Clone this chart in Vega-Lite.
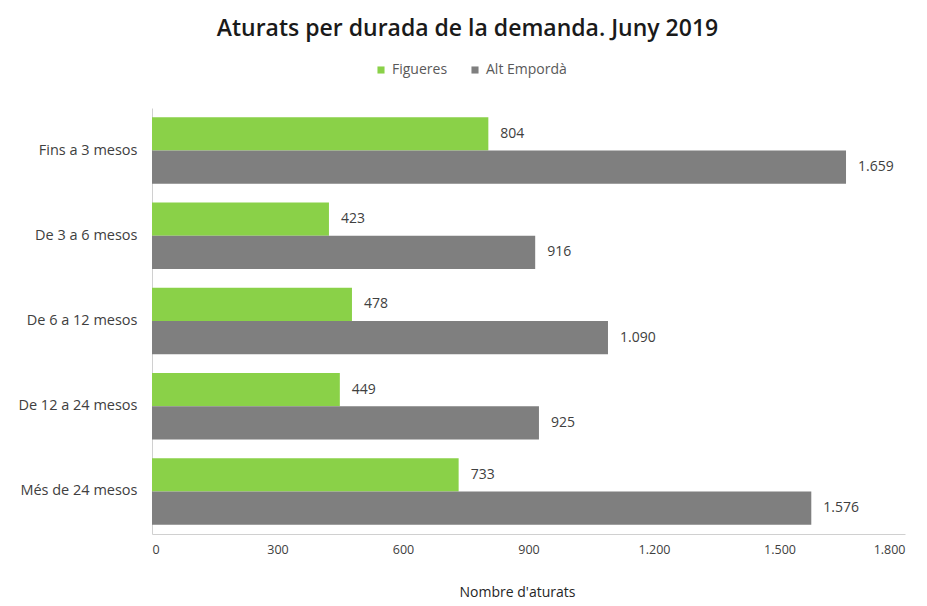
{
  "$schema": "https://vega.github.io/schema/vega-lite/v6.json",
  "width": 753,
  "height": 426,
  "autosize": {"type": "none"},
  "padding": {"left": 152, "top": 108, "right": 22, "bottom": 72},
  "background": "white",
  "config": {
    "locale": {"number": {"decimal": ",", "thousands": ".", "grouping": [3], "currency": ["", " €"]}},
    "font": "Open Sans",
    "view": {"stroke": null}
  },
  "title": {
    "text": "Aturats per durada de la demanda. Juny 2019",
    "font": "Open Sans",
    "fontSize": 23,
    "fontWeight": 600,
    "color": "#1a1a1a",
    "anchor": "middle",
    "dx": -61,
    "offset": 22
  },
  "data": {
    "values": [
      {"durada": "Fins a 3 mesos", "zona": "Figueres", "aturats": 804},
      {"durada": "Fins a 3 mesos", "zona": "Alt Empordà", "aturats": 1659},
      {"durada": "De 3 a 6 mesos", "zona": "Figueres", "aturats": 423},
      {"durada": "De 3 a 6 mesos", "zona": "Alt Empordà", "aturats": 916},
      {"durada": "De 6 a 12 mesos", "zona": "Figueres", "aturats": 478},
      {"durada": "De 6 a 12 mesos", "zona": "Alt Empordà", "aturats": 1090},
      {"durada": "De 12 a 24 mesos", "zona": "Figueres", "aturats": 449},
      {"durada": "De 12 a 24 mesos", "zona": "Alt Empordà", "aturats": 925},
      {"durada": "Més de 24 mesos", "zona": "Figueres", "aturats": 733},
      {"durada": "Més de 24 mesos", "zona": "Alt Empordà", "aturats": 1576}
    ]
  },
  "encoding": {
    "y": {
      "field": "durada",
      "type": "nominal",
      "sort": ["Fins a 3 mesos", "De 3 a 6 mesos", "De 6 a 12 mesos", "De 12 a 24 mesos", "Més de 24 mesos"],
      "scale": {"paddingInner": 0.22, "paddingOuter": 0.11},
      "axis": {
        "title": null,
        "ticks": false,
        "domain": true,
        "domainColor": "#d0d0d0",
        "labelFontSize": 14.5,
        "labelColor": "#404040",
        "labelPadding": 15
      }
    },
    "yOffset": {"field": "zona", "type": "nominal", "sort": ["Figueres", "Alt Empordà"]},
    "x": {
      "field": "aturats",
      "type": "quantitative",
      "scale": {"domain": [0, 1800], "nice": false},
      "axis": {
        "values": [0, 300, 600, 900, 1200, 1500, 1800],
        "format": ",d",
        "title": "Nombre d'aturats",
        "titleFontSize": 14,
        "titleFontWeight": "normal",
        "titleColor": "#262626",
        "titlePadding": 30,
        "titleX": 365,
        "grid": false,
        "ticks": false,
        "domainColor": "#d0d0d0",
        "labelFontSize": 12.5,
        "labelColor": "#404040",
        "labelPadding": 9
      }
    }
  },
  "layer": [
    {
      "mark": {"type": "bar"},
      "encoding": {
        "color": {
          "field": "zona",
          "type": "nominal",
          "sort": ["Figueres", "Alt Empordà"],
          "scale": {"domain": ["Figueres", "Alt Empordà"], "range": ["#8ad148", "#7f7f7f"]},
          "legend": {
            "title": null,
            "orient": "none",
            "legendX": 222,
            "legendY": -45,
            "direction": "horizontal",
            "symbolType": "square",
            "symbolSize": 50,
            "labelFontSize": 14,
            "labelColor": "#595959",
            "columnPadding": 20
          }
        }
      }
    },
    {
      "mark": {"type": "text", "align": "left", "baseline": "middle", "dx": 12, "fontSize": 14, "color": "#404040"},
      "encoding": {
        "text": {"field": "aturats", "type": "quantitative", "format": ",d"}
      }
    }
  ]
}
